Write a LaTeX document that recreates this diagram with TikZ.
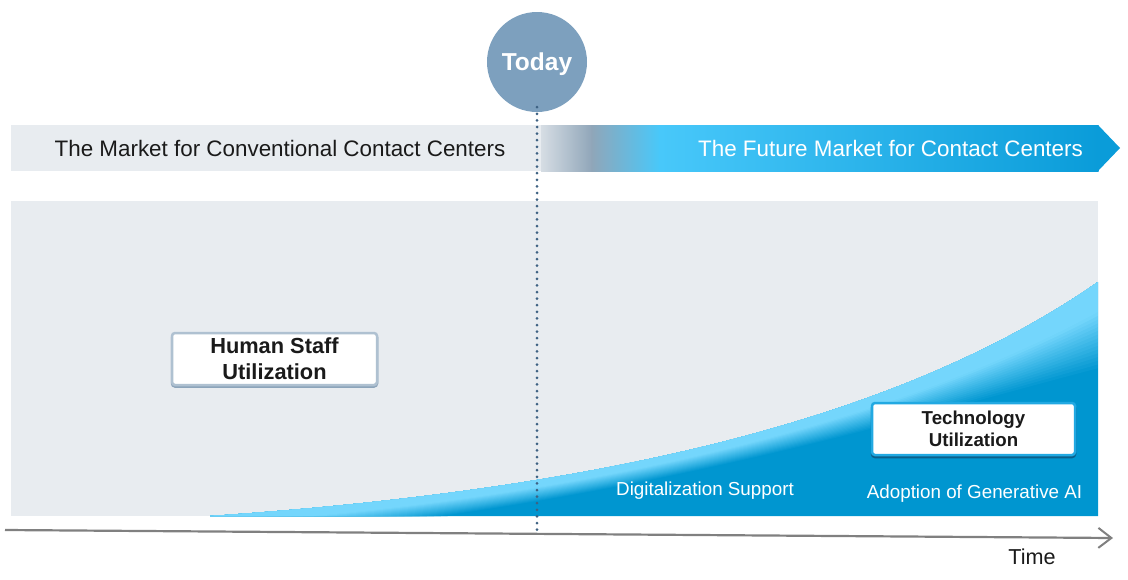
\documentclass[tikz,border=0pt]{standalone}
\usepackage{fontspec}
\setmainfont{Liberation Sans}
\usetikzlibrary{arrows.meta}
\definecolor{panel}{HTML}{E8ECF0}
\definecolor{darktext}{HTML}{1A1A1A}
\definecolor{stripeA}{HTML}{D6DDE4}
\definecolor{stripeB}{HTML}{90A6B9}
\definecolor{cyanbar}{HTML}{48C8FA}
\definecolor{bluebar}{HTML}{0A9CD9}
\definecolor{deepblue}{HTML}{0096D0}
\definecolor{lightcyan}{HTML}{74D6FC}
\definecolor{todayc}{HTML}{7DA0BE}
\definecolor{dotc}{HTML}{3E6283}
\definecolor{hborder}{HTML}{AFC1D1}
\definecolor{hshadow}{HTML}{8CA4BA}
\definecolor{tborder}{HTML}{22A9E2}
\definecolor{tshadow}{HTML}{0B5F8A}
\definecolor{axisc}{HTML}{808080}
\tikzset{
  bartext/.style={inner sep=0pt, font=\fontsize{22.4}{26}\selectfont},
  bluetext/.style={inner sep=0pt, text=white, font=\fontsize{18.8}{22}\selectfont},
  hbox/.style={draw=hborder, line width=2.5pt, fill=white, rounded corners=3pt,
    minimum width=205pt, minimum height=52pt, align=center, inner sep=0pt,
    text=darktext, font=\bfseries\fontsize{21.8}{26}\selectfont,
    preaction={draw=hshadow, line width=2.5pt, rounded corners=3pt, transform canvas={yshift=-1.5pt}}},
  tbox/.style={draw=tborder, line width=2.5pt, fill=white, rounded corners=3pt,
    minimum width=203pt, minimum height=52pt, align=center, inner sep=0pt,
    text=darktext, font=\bfseries\fontsize{18.7}{22}\selectfont,
    preaction={draw=tshadow, line width=2.5pt, rounded corners=3pt, transform canvas={yshift=-2pt}}},
  todaycircle/.style={circle, fill=todayc, minimum size=100pt, inner sep=0pt, text depth=0pt,
    text=white, font=\bfseries\fontsize{24.5}{28}\selectfont},
  dotline/.style={dotc, line width=3pt, line cap=round, dash pattern=on 0pt off 6.6pt},
  timeaxis/.style={axisc, line width=2.2pt, -{Straight Barb[length=13pt,width=20pt,line width=2pt]}},
}
\begin{document}
\begin{tikzpicture}[x=1pt,y=-1pt]
\useasboundingbox (0,0) rectangle (1128,579);
% top bar
\fill[panel] (11,125) rectangle (541,171);
\shade[left color=stripeA, right color=stripeB] (541,125) rectangle (592,171);
\shade[left color=stripeB, right color=cyanbar] (591.5,125) rectangle (660,171);
\shade[left color=cyanbar, right color=bluebar] (659.5,125) rectangle (1098.5,171);
\fill[bluebar] (1098,125) -- (1120,148) -- (1098,171) -- cycle;
\node[bartext, text=darktext] (oldmkt) at (280,148) {The Market for Conventional Contact Centers};
\node[bartext, text=white] (newmkt) at (890.5,148) {The Future Market for Contact Centers};
% main panel
\fill[panel] (11,201) rectangle (1098,516);
% blue growth area
\begin{scope}
\clip (210,516) .. controls (600,490) and (900,420) .. (1098,282) -- (1098,516) -- cycle;
\fill[deepblue] (200,270) rectangle (1100,520);
\foreach \i in {24,...,1}{
  \pgfmathsetmacro{\f}{\i/24}
  \pgfmathsetmacro{\p}{min(100,100*(1-\f)/0.65)}
  \pgfmathsetmacro{\ya}{516+25*\f}
  \pgfmathsetmacro{\yb}{490+25*\f}
  \pgfmathsetmacro{\yd}{282+90*\f}
  \fill[color=lightcyan!\p!deepblue]
    (210,516) .. controls (600,490) and (900,420) .. (1098,282)
    -- (1098,\yd) .. controls (900,420) and (600,\yb) .. (210,\ya) -- cycle;
}
\end{scope}
% dotted "today" line
\node[todaycircle] (today) at (537,62) {Today};
\coordinate (dotend) at (537,536);
\draw[dotline] ([yshift=5pt]today.south) -- (dotend);
% boxes
\node[hbox] (human) at (274.5,359) {Human Staff\\Utilization};
\node[tbox] (tech) at (973.5,429) {Technology\\Utilization};
\node[bluetext] (digi) at (705,491) {Digitalization Support};
\node[bluetext] (genai) at (974.5,494) {Adoption of Generative AI};
% time axis
\coordinate (axs) at (5,530);
\coordinate (axe) at (1113,538);
\draw[timeaxis] (axs) -- (axe);
\node[inner sep=0pt, text=darktext, font=\fontsize{21.6}{25}\selectfont] (time) at (1032,557) {Time};
\end{tikzpicture}
\end{document}
